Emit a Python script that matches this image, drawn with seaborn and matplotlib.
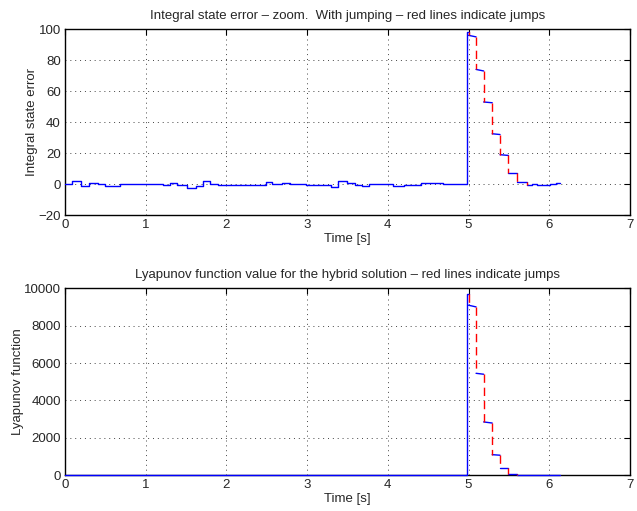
import numpy as np
import pandas as pd
import matplotlib
matplotlib.use("Agg")
import matplotlib.pyplot as plt
import seaborn as sns

# ---------------- data ----------------
# Integral state error: step levels before the disturbance (start time, level)
pre_t = [0.00, 0.09, 0.197, 0.297, 0.41, 0.50, 0.685, 0.80, 1.21, 1.30, 1.39,
         1.51, 1.62, 1.71, 1.80, 1.89, 2.49, 2.56, 2.69, 2.79, 2.99, 3.29,
         3.38, 3.49, 3.59, 3.68, 3.77, 3.95, 4.06, 4.20, 4.41, 4.50, 4.68]
pre_v = [0.0, 2.0, -1.5, 0.6, -0.2, -0.9, -0.2, 0.0, -0.6, 0.5, -0.6,
         -2.4, -1.5, 2.0, 0.0, -0.6, 1.5, 0.2, 1.0, 0.0, -0.8, -1.7,
         2.0, 0.6, -0.8, -1.3, -0.2, 0.0, -1.3, -0.6, 0.6, 0.8, 0.0]
rise_t = 4.985
err_peak = 98.3

# Flow intervals after the disturbance (bounded by jump instants)
jump_t = [5.00, 5.093, 5.187, 5.293, 5.39, 5.494, 5.597, 5.72]
err_flow_a = [96.0, 74.0, 53.0, 32.5, 19.0, 7.5, 1.3]
err_flow_b = [95.0, 73.0, 52.5, 32.0, 18.5, 7.5, 1.3]
tail_t = [5.72, 5.78, 5.845, 6.01, 6.085, 6.134]
tail_v = [-0.7, 0.4, -0.4, 0.2, 0.8]

# Lyapunov function value
lyap_pre = 0.0
lyap_peak = 9715.0
lyap_jump_t = [5.00, 5.093, 5.187, 5.293, 5.39, 5.494, 5.597]
lyap_flow_a = [9090.0, 5450.0, 2850.0, 1100.0, 360.0, 50.0]
lyap_flow_b = [9000.0, 5400.0, 2790.0, 1070.0, 360.0, 50.0]
lyap_tail = 0.0
t_end = 6.134


def steps(ts, vs, t_stop):
    xs, ys = [], []
    bounds = list(ts) + [t_stop]
    for i, v in enumerate(vs):
        xs += [bounds[i], bounds[i + 1]]
        ys += [v, v]
    return xs, ys


# ---- build flow / jump tables for the integral error ----
flow_rows, jump_rows = [], []
xs, ys = steps(pre_t, pre_v, rise_t)
xs += [rise_t, rise_t, jump_t[0]]
ys += [err_peak, err_peak, err_peak]
ys[-3] = pre_v[-1]
flow_rows += [(x, y, 0) for x, y in zip(xs, ys)]
prev = err_peak
for k in range(len(err_flow_a)):
    t0, t1 = jump_t[k], jump_t[k + 1]
    jump_rows += [(t0, prev, k), (t0, err_flow_a[k], k)]
    flow_rows += [(t0, err_flow_a[k], k + 1), (t1, err_flow_b[k], k + 1)]
    prev = err_flow_b[k]
k = len(err_flow_a)
jump_rows += [(tail_t[0], prev, k), (tail_t[0], tail_v[0], k)]
tx, ty = steps(tail_t[:-1], tail_v, tail_t[-1])
flow_rows += [(x, y, k + 1) for x, y in zip(tx, ty)]
err_flow = pd.DataFrame(flow_rows, columns=["t", "v", "seg"])
err_jump = pd.DataFrame(jump_rows, columns=["t", "v", "seg"])

# ---- build flow / jump tables for the Lyapunov function ----
flow_rows, jump_rows = [], []
flow_rows += [(0.0, lyap_pre, 0), (rise_t, lyap_pre, 0), (rise_t, lyap_peak, 0),
              (lyap_jump_t[0], lyap_peak, 0)]
prev = lyap_peak
for k in range(len(lyap_flow_a)):
    t0, t1 = lyap_jump_t[k], lyap_jump_t[k + 1]
    jump_rows += [(t0, prev, k), (t0, lyap_flow_a[k], k)]
    flow_rows += [(t0, lyap_flow_a[k], k + 1), (t1, lyap_flow_b[k], k + 1)]
    prev = lyap_flow_b[k]
k = len(lyap_flow_a)
jump_rows += [(lyap_jump_t[-1], prev, k), (lyap_jump_t[-1], lyap_tail, k)]
flow_rows += [(lyap_jump_t[-1], lyap_tail, k + 1), (t_end, lyap_tail, k + 1)]
lyap_flow = pd.DataFrame(flow_rows, columns=["t", "v", "seg"])
lyap_jump = pd.DataFrame(jump_rows, columns=["t", "v", "seg"])

# ---------------- figure ----------------
sns.set_style("white")
plt.rcParams["font.family"] = ["Liberation Sans", "DejaVu Sans"]

fig = plt.figure(figsize=(6.37, 5.11), dpi=100)
ax1 = fig.add_axes([0.102, 0.579, 0.887, 0.364])
ax2 = fig.add_axes([0.102, 0.070, 0.887, 0.366])


def draw(ax, flow, jump):
    sns.lineplot(data=flow, x="t", y="v", units="seg", estimator=None,
                 sort=False, color="#0000ff", linewidth=1.0, ax=ax,
                 zorder=3, clip_on=False)
    sns.lineplot(data=jump, x="t", y="v", units="seg", estimator=None,
                 sort=False, color="#ff0000", linewidth=1.0,
                 linestyle=(0, (6, 3.5)), ax=ax, zorder=4, clip_on=False)


def style(ax, ylim, yticks, ylabel, title):
    ax.set_xlim(0, 7)
    ax.set_ylim(*ylim)
    ax.set_xticks(range(8))
    ax.set_yticks(yticks)
    ax.grid(True, linestyle=(0, (1, 4)), color="#444444", linewidth=0.7)
    ax.tick_params(direction="in", top=True, right=True, length=4,
                   width=0.8, labelsize=9.5, color="black", pad=3)
    for s in ax.spines.values():
        s.set_color("black")
        s.set_linewidth(1.0)
    ax.set_xlabel("Time [s]", fontsize=9.5, labelpad=1)
    ax.set_ylabel(ylabel, fontsize=9.5, labelpad=0)
    ax.set_title(title, fontsize=9.5, pad=7)


draw(ax1, err_flow, err_jump)
style(ax1, (-20, 100), range(-20, 101, 20), "Integral state error",
      "Integral state error \u2013 zoom.  With jumping \u2013 red lines indicate jumps")

draw(ax2, lyap_flow, lyap_jump)
style(ax2, (0, 10000), range(0, 10001, 2000), "Lyapunov function",
      "Lyapunov function value for the hybrid solution \u2013 red lines indicate jumps")

fig.savefig("out.png", dpi=100)
